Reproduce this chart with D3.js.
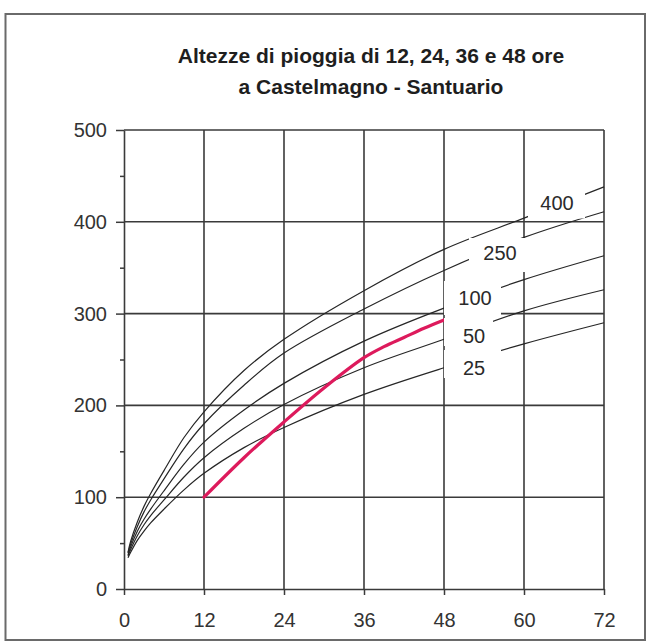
<!DOCTYPE html>
<html>
<head>
<meta charset="utf-8">
<script src="https://cdn.jsdelivr.net/npm/d3@7"></script>
<style>
  html, body { margin: 0; padding: 0; background: #fff; }
  svg { display: block; }
  text { font-family: "Liberation Sans", Arial, sans-serif; }
</style>
</head>
<body>
<svg id="chart" width="650" height="641"></svg>
<script>
// ---- data ----
const titleLines = ["Altezze di pioggia di 12, 24, 36 e 48 ore", "a Castelmagno - Santuario"];
const xTicks = [0, 12, 24, 36, 48, 60, 72];
const yTicks = [0, 100, 200, 300, 400, 500];
const yMinorTicks = [50, 150, 250, 350, 450];

// durations (hours) at which the return-period curves are read
const durations = [0.6, 1, 2, 3, 4, 6, 9, 12, 18, 24, 36, 48, 60, 72];
const returnPeriods = ["25", "50", "100", "250", "400"];
const h25  = [34, 40, 53, 63, 72, 87, 108, 126, 154, 176, 212, 241, 267, 290];
const h50  = [36, 43, 58, 70, 80, 97, 122, 143, 175, 201, 241, 272, 303, 326];
const h100 = [37, 46, 63, 76, 87, 107, 136, 160, 195, 224, 270, 306, 337, 363];
const h250 = [39, 49, 68, 84, 97, 120, 153, 180, 222, 257, 305, 347, 383, 411];
const h400 = [40, 52, 73, 90, 104, 129, 165, 193, 238, 272, 325, 370, 404, 438];

// observed event (red line)
const eventDur = [12, 18, 24, 30, 36, 39, 42, 45, 48];
const eventH   = [100, 143, 182, 219, 252, 264, 274, 284, 293];

// ---- layout ----
const svg = d3.select("#chart");
const x = d3.scaleLinear().domain([0, 72]).range([124, 604]);
const y = d3.scaleLinear().domain([0, 500]).range([589, 130]);

const gridColor = "#3a3a3a";
const curveColor = "#262626";

// outer frame
svg.append("rect").attr("x", 5.5).attr("y", 14).attr("width", 639.5).attr("height", 626)
  .attr("fill", "#fff").attr("stroke", "#6a6a6a").attr("stroke-width", 2);

// title
svg.append("g").selectAll("text").data(titleLines).join("text")
  .attr("x", 371).attr("y", (d, i) => 63 + i * 31)
  .attr("text-anchor", "middle").attr("font-size", 21).attr("font-weight", "bold")
  .attr("fill", "#1e1e1e").text(d => d);

// grid
const grid = svg.append("g");
grid.selectAll("line.h").data(yTicks.filter(v => v > 0)).join("line").attr("class", "h")
  .attr("x1", x(0)).attr("x2", x(72)).attr("y1", d => y(d)).attr("y2", d => y(d))
  .attr("stroke", gridColor).attr("stroke-width", 1.6);
grid.selectAll("line.v").data(xTicks.filter(v => v > 0)).join("line").attr("class", "v")
  .attr("x1", d => x(d)).attr("x2", d => x(d)).attr("y1", y(0)).attr("y2", y(500))
  .attr("stroke", gridColor).attr("stroke-width", 1.6);

// return-period curves
const series = [h25, h50, h100, h250, h400];
const line = d3.line().x((d, i) => x(durations[i])).y(d => y(d)).curve(d3.curveCatmullRom.alpha(0.5));
svg.append("g").selectAll("path").data(series).join("path")
  .attr("d", d => line(d)).attr("fill", "none")
  .attr("stroke", curveColor).attr("stroke-width", 1.2);

// observed event
const eline = d3.line().x((d, i) => x(eventDur[i])).y(d => y(d)).curve(d3.curveCatmullRom.alpha(0.5));
svg.append("path").attr("d", eline(eventH)).attr("fill", "none")
  .attr("stroke", "#dd1a5c").attr("stroke-width", 3.2).attr("stroke-linecap", "round");

// curve labels with white backgrounds (boxes in pixel layout)
const labelBoxes = [
  { x0: 528, x1: 585, y0: 186, y1: 218.5, cx: 557, cy: 203 },
  { x0: 469, x1: 527.5, y0: 238, y1: 272, cx: 500, cy: 253 },
  { x0: 444, x1: 501, y0: 281, y1: 315, cx: 475, cy: 298 },
  { x0: 444, x1: 493, y0: 318, y1: 346, cx: 474, cy: 336 },
  { x0: 444, x1: 501, y0: 350, y1: 378, cx: 474, cy: 367.5 }
];
const lab = svg.append("g").selectAll("g").data(returnPeriods.slice().reverse()).join("g");
lab.append("rect")
  .attr("x", (d, i) => labelBoxes[i].x0).attr("y", (d, i) => labelBoxes[i].y0)
  .attr("width", (d, i) => labelBoxes[i].x1 - labelBoxes[i].x0)
  .attr("height", (d, i) => labelBoxes[i].y1 - labelBoxes[i].y0)
  .attr("fill", "#fff");
lab.append("text")
  .attr("x", (d, i) => labelBoxes[i].cx).attr("y", (d, i) => labelBoxes[i].cy)
  .attr("dy", "0.36em").attr("text-anchor", "middle")
  .attr("font-size", 20).attr("fill", "#2a2a2a").text(d => d);

// axes
const yAxis = svg.append("g").attr("transform", `translate(${x(0)},0)`)
  .call(d3.axisLeft(y).tickValues(yTicks).tickSize(8).tickSizeOuter(0).tickPadding(9));
const yMinor = svg.append("g").attr("transform", `translate(${x(0)},0)`)
  .call(d3.axisLeft(y).tickValues(yMinorTicks).tickSize(4).tickFormat(""));
yMinor.select(".domain").remove();
const xAxis = svg.append("g").attr("transform", `translate(0,${y(0)})`)
  .call(d3.axisBottom(x).tickValues(xTicks).tickSize(6).tickSizeOuter(0).tickPadding(18));

[yAxis, yMinor, xAxis].forEach(g => {
  g.selectAll(".domain").attr("stroke", gridColor).attr("stroke-width", 1.6);
  g.selectAll(".tick line").attr("stroke", gridColor).attr("stroke-width", 1.5);
  g.selectAll(".tick text").attr("font-size", 20)
    .attr("font-family", '"Liberation Sans", Arial, sans-serif').attr("fill", "#333");
});
</script>
</body>
</html>
